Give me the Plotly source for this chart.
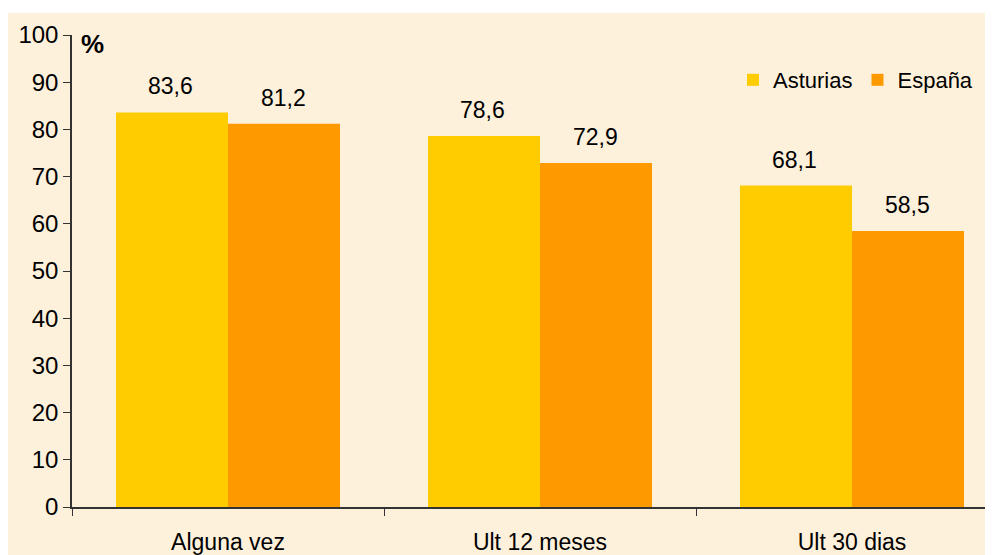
import plotly.graph_objects as go

categories = ["Alguna vez", "Ult 12 meses", "Ult 30 dias"]
asturias = [83.6, 78.6, 68.1]
espana = [81.2, 72.9, 58.5]
y_ticks = [0, 10, 20, 30, 40, 50, 60, 70, 80, 90, 100]

# the page adds an 8px body margin, so figure coords = page coords - 8
W, H = 993, 555
L, T = 64, 27
B = H - 499
R = 8
pw, ph = W - L - R, H - T - B
cat_w = 312  # pixel width of one category slot
bar_w = cat_w * (1 - 0.282) / 2

def px_x(fx):
    return (fx - L) / pw

def px_y(fy):
    return (H - B - fy) / ph

fig = go.Figure()
fig.add_trace(go.Bar(name="Asturias", x=categories, y=asturias, marker_color="#FFCC00",
                     marker_line_width=0))
fig.add_trace(go.Bar(name="España", x=categories, y=espana, marker_color="#FF9900",
                     marker_line_width=0))

for series, sign in ((asturias, -1), (espana, 1)):
    for c, v in zip(categories, series):
        fig.add_annotation(x=c, y=v, xref="x", yref="y", text=f"{v:.1f}".replace(".", ","),
                           showarrow=False, xanchor="center", yanchor="bottom",
                           xshift=sign * bar_w / 2 - 1, yshift=11,
                           font=dict(size=23, color="black"))

fig.add_shape(type="rect", xref="paper", yref="paper",
              x0=px_x(0), x1=px_x(W + 20), y0=px_y(H + 10), y1=px_y(5),
              fillcolor="#FDF1DC", line_width=0, layer="below")

fig.add_annotation(text="<b>%</b>", xref="paper", yref="paper", x=px_x(71), y=px_y(19),
                   xanchor="left", yanchor="top", showarrow=False,
                   font=dict(size=26, color="black"))

fig.update_layout(
    width=W, height=H,
    margin=dict(l=L, r=R, t=T, b=B, pad=0, autoexpand=False),
    paper_bgcolor="white", plot_bgcolor="rgba(0,0,0,0)",
    barmode="group", bargap=0.282, bargroupgap=0,
    font=dict(family="Liberation Sans, Arial", size=23, color="black"),
    legend=dict(x=px_x(725), y=px_y(51), xanchor="left", yanchor="top",
                orientation="h", bgcolor="rgba(0,0,0,0)", font=dict(size=22),
                itemwidth=30, tracegroupgap=0),
    showlegend=True,
    xaxis=dict(type="category", range=[-0.5, -0.5 + pw / cat_w], automargin=False,
               showline=True, linecolor="#333", linewidth=1.5,
               ticks="outside", tickson="boundaries", ticklen=7, tickcolor="#333",
               showgrid=False, tickfont=dict(size=23), ticklabelstandoff=14),
    yaxis=dict(range=[0, 100], tickvals=y_ticks, automargin=False,
               showline=True, linecolor="#333", linewidth=1.5,
               ticks="outside", ticklen=7, tickcolor="#333", showgrid=False, zeroline=False,
               tickfont=dict(size=24)),
)
fig.write_html("out.html")
